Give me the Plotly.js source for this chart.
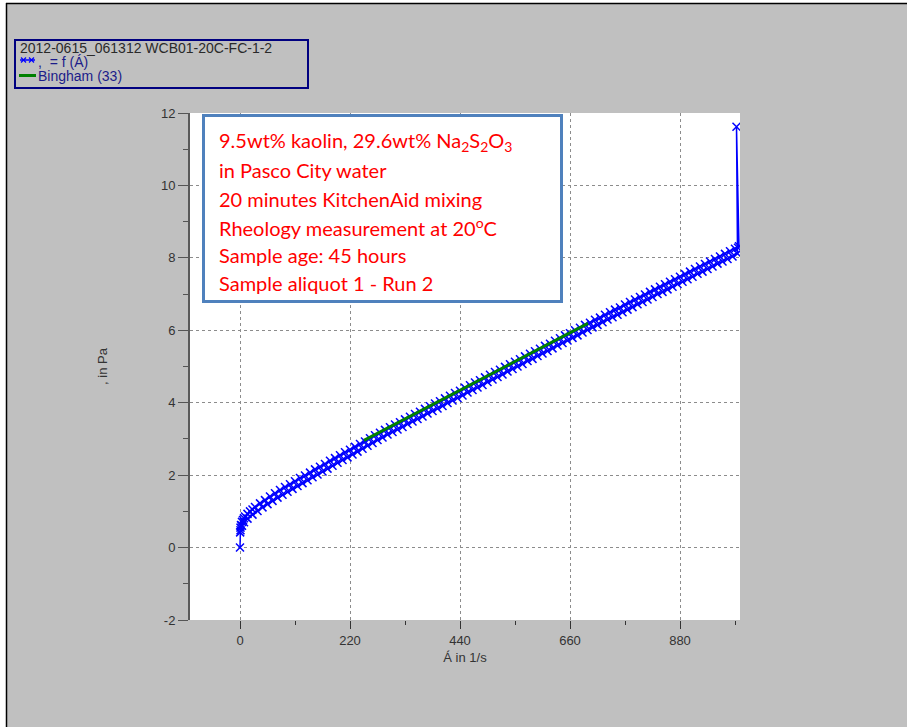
<!DOCTYPE html>
<html>
<head>
<meta charset="utf-8">
<script src="https://cdn.plot.ly/plotly-3.0.1.min.js"></script>
<style>
  html, body { margin: 0; padding: 0; background: #c0c0c0; }
  #chart { width: 907px; height: 727px; }
</style>
</head>
<body>
<div id="chart"></div>
<script>
// Flow curve of the kaolin / thiosulfate slurry: shear rate (1/s) vs shear stress (Pa)
const runTitle = "2012-0615_061312 WCB01-20C-FC-1-2";
const curveName = ",  = f (Á)";
const fitName = "Bingham (33)";

// ramp up (start point, ramp to max rate)
const rateUp = [0, 0.3, 1, 2, 4, 6, 8, 10, 15, 20, 25, 30, 40, 50, 60, 70, 80, 90, 100,
  110, 120, 130, 140, 150, 160, 170, 180, 190, 200, 210, 220, 230, 240, 250, 260, 270,
  280, 290, 300, 310, 320, 330, 340, 350, 360, 370, 380, 390, 400, 410, 420, 430, 440,
  450, 460, 470, 480, 490, 500, 510, 520, 530, 540, 550, 560, 570, 580, 590, 600, 610,
  620, 630, 640, 650, 660, 670, 680, 690, 700, 710, 720, 730, 740, 750, 760, 770, 780,
  790, 800, 810, 820, 830, 840, 850, 860, 870, 880, 890, 900, 910, 920, 930, 940, 950,
  960, 970, 980, 990, 998];
const stressUp = [0.00, 0.42, 0.55, 0.62, 0.71, 0.76, 0.81, 0.86, 0.93, 1.00, 1.05, 1.12,
  1.22, 1.31, 1.41, 1.50, 1.59, 1.67, 1.75, 1.83, 1.92, 1.99, 2.07, 2.16, 2.23, 2.31,
  2.40, 2.47, 2.55, 2.63, 2.70, 2.78, 2.86, 2.93, 3.02, 3.10, 3.17, 3.25, 3.32, 3.40,
  3.46, 3.54, 3.61, 3.69, 3.75, 3.83, 3.90, 3.98, 4.04, 4.12, 4.19, 4.27, 4.33, 4.41,
  4.48, 4.56, 4.62, 4.70, 4.77, 4.85, 4.91, 4.99, 5.06, 5.13, 5.20, 5.28, 5.35, 5.42,
  5.49, 5.57, 5.63, 5.71, 5.78, 5.86, 5.92, 6.00, 6.07, 6.15, 6.21, 6.29, 6.35, 6.43,
  6.50, 6.57, 6.63, 6.71, 6.78, 6.85, 6.92, 6.99, 7.06, 7.13, 7.20, 7.27, 7.34, 7.41,
  7.48, 7.55, 7.62, 7.69, 7.76, 7.83, 7.90, 7.97, 8.04, 8.11, 8.18, 8.25, 8.32];

// peak reading at the top rate
const ratePeak = [993, 996];
const stressPeak = [11.62, 8.28];

// ramp down
const rateDown = [995, 985, 975, 965, 955, 945, 935, 925, 915, 905, 895, 885, 875, 865,
  855, 845, 835, 825, 815, 805, 795, 785, 775, 765, 755, 745, 735, 725, 715, 705, 695,
  685, 675, 665, 655, 645, 635, 625, 615, 605, 595, 585, 575, 565, 555, 545, 535, 525,
  515, 505, 495, 485, 475, 465, 455, 445, 435, 425, 415, 405, 395, 385, 375, 365, 355,
  345, 335, 325, 315, 305, 295, 285, 275, 265, 255, 245, 235, 225, 215, 205, 195, 185,
  175, 165, 155, 145, 135, 125, 115, 105, 95, 85, 75, 65, 55, 45, 35, 25, 15, 8, 4, 1];
const stressDown = [8.12, 8.04, 7.97, 7.90, 7.84, 7.76, 7.69, 7.62, 7.56, 7.48, 7.41,
  7.34, 7.28, 7.20, 7.13, 7.06, 7.00, 6.92, 6.85, 6.78, 6.72, 6.64, 6.57, 6.50, 6.43,
  6.36, 6.30, 6.22, 6.15, 6.08, 6.01, 5.94, 5.86, 5.79, 5.72, 5.65, 5.58, 5.50, 5.43,
  5.36, 5.29, 5.21, 5.15, 5.07, 5.00, 4.93, 4.86, 4.78, 4.71, 4.64, 4.57, 4.49, 4.42,
  4.35, 4.28, 4.20, 4.13, 4.06, 3.99, 3.91, 3.84, 3.77, 3.70, 3.62, 3.55, 3.48, 3.41,
  3.33, 3.26, 3.19, 3.12, 3.04, 2.97, 2.89, 2.81, 2.73, 2.65, 2.57, 2.49, 2.42, 2.34,
  2.26, 2.18, 2.10, 2.02, 1.94, 1.86, 1.78, 1.70, 1.62, 1.54, 1.46, 1.38, 1.29, 1.20,
  1.11, 1.01, 0.91, 0.80, 0.70, 0.60, 0.48];

// Bingham fit segment
const rateFit = [248, 696];
const stressFit = [2.96, 6.19];

// axis ticks
const xTicks = [0, 220, 440, 660, 880];
const yTicks = [-2, 0, 2, 4, 6, 8, 10, 12];
const yTickText = ["-2", "0", "2", "4", "6", "8", "10", "12"];

// info box lines
const infoLines = [
  "9.5wt% kaolin, 29.6wt% Na<sub>2</sub>S<sub>2</sub>O<sub>3</sub>",
  "in Pasco City water",
  "20 minutes KitchenAid mixing",
  "Rheology measurement at 20<sup>o</sup>C",
  "Sample age: 45 hours",
  "Sample aliquot 1 - Run 2"
];

// plot area in page pixels
const PL = 190, PR = 740, PT = 113, PB = 620;
const fx = p => (p - PL) / (PR - PL);
const fy = p => (PB - p) / (PB - PT);

const blue = "#0000ff";

const curve = {
  x: rateUp.concat(ratePeak, rateDown),
  y: stressUp.concat(stressPeak, stressDown),
  name: curveName,
  type: "scatter",
  mode: "lines+markers",
  line: { color: blue, width: 1.5 },
  marker: { symbol: "x-thin", size: 8, color: blue, line: { color: blue, width: 1.5 } },
  showlegend: false
};

const fit = {
  x: rateFit,
  y: stressFit,
  name: fitName,
  type: "scatter",
  mode: "lines",
  line: { color: "#008000", width: 3 },
  showlegend: false
};

const shapes = [
  // page frame
  { type: "rect", xref: "paper", yref: "paper", x0: fx(0), x1: fx(907), y0: fy(3), y1: fy(0),
    fillcolor: "#ffffff", line: { width: 0 }, layer: "below" },
  { type: "rect", xref: "paper", yref: "paper", x0: fx(0), x1: fx(6), y0: fy(727), y1: fy(0),
    fillcolor: "#ffffff", line: { width: 0 }, layer: "below" },
  { type: "line", xref: "paper", yref: "paper", x0: fx(6), x1: fx(907), y0: fy(3.5), y1: fy(3.5),
    line: { color: "#000000", width: 1.5 } },
  { type: "line", xref: "paper", yref: "paper", x0: fx(6.5), x1: fx(6.5), y0: fy(3), y1: fy(727),
    line: { color: "#000000", width: 1.5 } },
  // legend frame
  { type: "rect", xref: "paper", yref: "paper", x0: fx(15), x1: fx(308), y0: fy(88), y1: fy(40),
    line: { color: "#000080", width: 2 } },
  // legend sample: curve
  { type: "line", xref: "paper", yref: "paper", x0: fx(20), x1: fx(35), y0: fy(60), y1: fy(60),
    line: { color: blue, width: 1.5 } },
  { type: "line", xref: "paper", yref: "paper", x0: fx(21), x1: fx(26), y0: fy(57.5), y1: fy(62.5),
    line: { color: blue, width: 1.2 } },
  { type: "line", xref: "paper", yref: "paper", x0: fx(21), x1: fx(26), y0: fy(62.5), y1: fy(57.5),
    line: { color: blue, width: 1.2 } },
  { type: "line", xref: "paper", yref: "paper", x0: fx(29), x1: fx(34), y0: fy(57.5), y1: fy(62.5),
    line: { color: blue, width: 1.2 } },
  { type: "line", xref: "paper", yref: "paper", x0: fx(29), x1: fx(34), y0: fy(62.5), y1: fy(57.5),
    line: { color: blue, width: 1.2 } },
  // legend sample: fit
  { type: "line", xref: "paper", yref: "paper", x0: fx(19), x1: fx(36), y0: fy(75.5), y1: fy(75.5),
    line: { color: "#008000", width: 3 } },
  // info box
  { type: "rect", xref: "paper", yref: "paper", x0: fx(203.5), x1: fx(561.5), y0: fy(301.5), y1: fy(115.5),
    fillcolor: "#ffffff", line: { color: "#4f81bd", width: 3 } }
];

const legendFont = { family: "Liberation Sans, Arial, sans-serif", size: 14 };
const annotations = [
  { text: runTitle, xref: "paper", yref: "paper", x: fx(18), y: fy(48), xanchor: "left", yanchor: "middle",
    showarrow: false, font: Object.assign({ color: "#2a2a2a" }, legendFont) },
  { text: curveName, xref: "paper", yref: "paper", x: fx(36), y: fy(62), xanchor: "left", yanchor: "middle",
    showarrow: false, font: Object.assign({ color: "#1c1c8a" }, legendFont) },
  { text: fitName, xref: "paper", yref: "paper", x: fx(36), y: fy(76), xanchor: "left", yanchor: "middle",
    showarrow: false, font: Object.assign({ color: "#1c1c8a" }, legendFont) }
];
const lineY = [141.5, 170, 198.5, 227, 255, 283];
infoLines.forEach((t, i) => {
  annotations.push({ text: t, xref: "paper", yref: "paper", x: fx(217), y: fy(lineY[i]),
    xanchor: "left", yanchor: "middle", showarrow: false,
    font: { family: "Lato, Open Sans, sans-serif", size: 20, color: "#ff0000" } });
});

const tickFont = { family: "Liberation Sans, Arial, sans-serif", size: 13, color: "#333333" };

const layout = {
  width: 907, height: 727,
  paper_bgcolor: "#c0c0c0",
  plot_bgcolor: "#ffffff",
  margin: { l: PL, r: 907 - PR, t: PT, b: 727 - PB, pad: 0 },
  showlegend: false,
  xaxis: {
    range: [-100, 1000],
    tickvals: xTicks,
    ticks: "outside", ticklen: 8, tickwidth: 1, tickcolor: "#333333",
    minor: { tickvals: [110, 330, 550, 770, 990], ticks: "outside", ticklen: 4, tickcolor: "#333333", showgrid: false },
    showline: false, zeroline: false,
    showgrid: true, gridcolor: "#8c8c8c", griddash: "3px,3px", gridwidth: 1,
    tickfont: tickFont,
    title: { text: "Á in 1/s", font: tickFont, standoff: 6 }
  },
  yaxis: {
    range: [-2, 12],
    tickvals: yTicks,
    ticktext: yTickText,
    ticks: "outside", ticklen: 10, tickwidth: 1, tickcolor: "#555555",
    minor: { dtick: 1, ticks: "outside", ticklen: 5, tickcolor: "#555555", showgrid: false },
    showline: true, linecolor: "#5a5a5a", linewidth: 2,
    zeroline: false,
    showgrid: true, gridcolor: "#8c8c8c", griddash: "3px,3px", gridwidth: 1,
    tickfont: tickFont,
    title: { text: ", in Pa", font: tickFont, standoff: 50 }
  },
  shapes: shapes,
  annotations: annotations
};

Plotly.newPlot("chart", [curve, fit], layout, { displayModeBar: false, staticPlot: true });
</script>
</body>
</html>
